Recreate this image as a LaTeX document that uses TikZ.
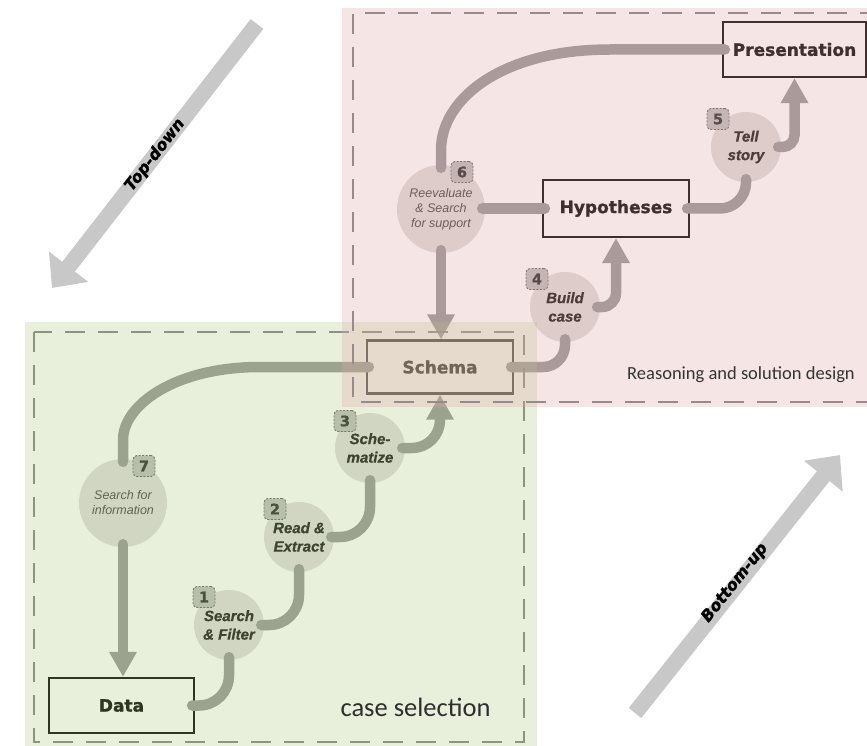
\documentclass[tikz,border=0pt]{standalone}
\usepackage{fontspec}
\setmainfont{Liberation Sans}[BoldItalicFeatures={FakeBold=0.6}]
\newfontfamily\calib{Carlito}
\newfontfamily\heavy{DejaVu Sans}[BoldFeatures={FakeBold=1.2},BoldItalicFeatures={FakeBold=1.2}]
\usetikzlibrary{arrows.meta}
\definecolor{conncol}{RGB}{150,150,150}
\definecolor{circcol}{RGB}{222,220,218}
\definecolor{badgef}{RGB}{188,188,188}
\definecolor{badged}{RGB}{95,95,95}
\definecolor{inkcol}{RGB}{0,0,0}
\definecolor{schemaink}{RGB}{30,30,30}
\definecolor{schemaline}{RGB}{50,50,50}
\definecolor{ovgreen}{RGB}{171,200,128}
\definecolor{ovpink}{RGB}{224,165,165}
\definecolor{dashg}{RGB}{140,148,128}
\definecolor{dashp}{RGB}{152,138,138}
\definecolor{bigarrowcol}{RGB}{200,200,200}
\begin{document}
\begin{tikzpicture}[x=1pt,y=-1pt,
  box/.style={draw=inkcol, line width=2.2pt, minimum width=146pt, minimum height=55pt, inner sep=0pt,
    font=\heavy\fontsize{17}{18}\selectfont\bfseries, text=inkcol},
  stepc/.style={circle, fill=circcol, minimum size=70pt, inner sep=0pt, align=center,
    font=\fontsize{15}{18.5}\selectfont\bfseries\itshape, text=black!93},
  stepbig/.style={stepc, minimum size=88pt, font=\fontsize{12.5}{15}\selectfont\itshape, text=black!75},
  badge/.style={draw=badged, dash pattern=on 2pt off 1.5pt, line width=0.9pt, fill=badgef,
    rounded corners=4pt, minimum width=22pt, minimum height=21pt, inner sep=0pt,
    font=\heavy\fontsize{14.5}{15}\selectfont\bfseries, text=black!85},
  conn/.style={draw=conncol, line width=10.5pt, line cap=round, rounded corners=#1,
    shorten <=-3pt},
  conn/.default=0pt,
  arr/.style={-{Triangle[width=26pt,length=25pt]}},
  open/.style={shorten >=-3pt},
  bigarrow/.style={draw=bigarrowcol, line width=16pt, -{Triangle[width=48pt,length=27pt]}},
  biglabel/.style={font=\heavy\fontsize{16}{16}\selectfont\bfseries\itshape, text=black}
]
\useasboundingbox (0,0) rectangle (867,746);
\clip (0,0) rectangle (867,746);

% boxes
\node[box, minimum width=143pt] (pres) at (794.5,49.5) {Presentation};
\node[box, minimum height=57pt] (hyp) at (616,208.5) {Hypotheses};
\node[box, draw=schemaline, text=schemaink, minimum height=53pt] (schema) at (440,367) {Schema};
\node[box, minimum width=145pt] (data) at (121.5,705.5) {Data};

% step circles
\node[stepbig] (c7) at (123,503) {Search for\\information};
\node[stepc] (c1) at (229,625) {Search\\\& Filter};
\node[stepc] (c2) at (299,537) {Read \&\\Extract};
\node[stepc] (c3) at (370,448) {Sche-\\matize};
\node[stepc] (c4) at (565,307) {Build\\case};
\node[stepc] (c5) at (746,147) {Tell\\story};
\node[stepbig] (c6) at (441,209) {Reevaluate\\\& Search\\for support};

% connectors
\draw[conn=30pt, open] (data.east) -| (c1.south);
\draw[conn=30pt, open] (c1.east) -| (c2.south);
\draw[conn=30pt, open] (c2.east) -| (c3.south);
\draw[conn=28pt, arr] (c3.east) -| (schema.south);
\draw[conn=22pt, open] (schema.east) -| (c4.south);
\draw[conn=14pt, arr] (c4.east) -| (hyp.south);
\draw[conn=26pt, open] (hyp.east) -| (c5.south);
\draw[conn=12pt, arr] (c5.east) -| (pres.south);
\draw[conn, open] (pres.west) -- (610,49.5) .. controls (500,49.5) and (441,100) .. (441,150) -- (c6.north);
\draw[conn, open] (c6.east |- hyp.west) -- (hyp.west);
\draw[conn, arr] (c6.south) -- (c6.south |- schema.north);
\draw[conn, open] (schema.west) -- (260,367) .. controls (175,367) and (123,405) .. (123,440) -- (c7.north);
\draw[conn, arr] (c7.south) -- (c7.south |- data.north);

% number badges
\node[badge] (b7) at (144,466) {7};
\node[badge] (b1) at (204,597) {1};
\node[badge] (b2) at (275,509) {2};
\node[badge] (b3) at (345,421) {3};
\node[badge] (b4) at (537,279) {4};
\node[badge] (b5) at (718,119) {5};
\node[badge] (b6) at (462,172) {6};

% regions (translucent overlays)
\fill[ovgreen, fill opacity=0.275] (25,322) rectangle (537,750);
\draw[dashg, line width=2.5pt, dash pattern=on 20pt off 13pt] (34,332) rectangle (524,742);
\fill[ovpink, fill opacity=0.29] (342,8) rectangle (870,407);
\draw[dashp, line width=2.5pt, dash pattern=on 20pt off 13pt] (880,13) -- (353,13) -- (353,402) -- (880,402);

\node[font=\calib\fontsize{26.5}{30}\selectfont, text=black!82] (cs) at (415.5,707) {case selection};
\node[font=\calib\fontsize{18.5}{22}\selectfont, text=black!80] (rs) at (741,375) {Reasoning and solution design};

% big direction arrows
\coordinate (tdtail) at (257,24);
\coordinate (tdtip) at (52,288);
\coordinate (butail) at (635,713);
\coordinate (butip) at (840,455);
\draw[bigarrow] (tdtail) -- (tdtip);
\draw[bigarrow] (butail) -- (butip);
\node[biglabel, rotate=52.2] (tdlabel) at (155,155) {Top-down};
\node[biglabel, rotate=51.5] (bulabel) at (735,583) {Bottom-up};
\end{tikzpicture}
\end{document}
